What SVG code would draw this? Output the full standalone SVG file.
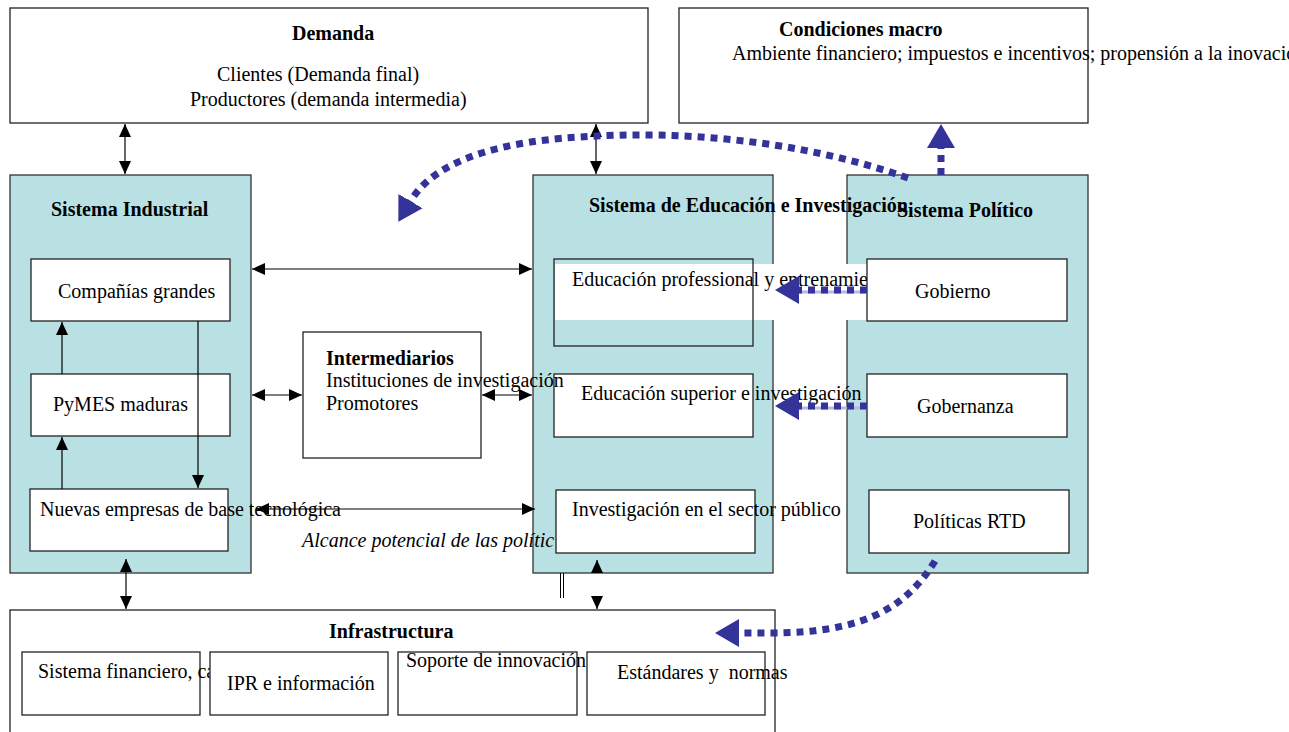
<svg xmlns="http://www.w3.org/2000/svg" width="1289" height="732" viewBox="0 0 1289 732">
  <style>
    text { font-family: "Liberation Serif", "Times New Roman", serif; font-size: 20px; fill: #000; }
    .b { font-weight: bold; }
    .it { font-style: italic; }
    .box { fill: #fff; stroke: #222; stroke-width: 1.3; }
    .sys { fill: #b9e0e3; stroke: #333; stroke-width: 1.3; }
    .ln { fill: none; stroke: #000; stroke-width: 1.2; }
    .dot { fill: none; stroke: #333399; stroke-width: 7; stroke-dasharray: 7 6; }
    .pale { fill: none; stroke: #b8b8e0; stroke-width: 3; }
  </style>
  <defs>
    <marker id="ah" markerUnits="userSpaceOnUse" markerWidth="14" markerHeight="14" viewBox="0 0 14 14" refX="13" refY="7" orient="auto-start-reverse">
      <path d="M0 1 L13 7 L0 13 Z" fill="#000"/>
    </marker>
    <marker id="bh" markerUnits="userSpaceOnUse" markerWidth="26" markerHeight="30" viewBox="0 0 26 30" refX="1" refY="15" orient="auto">
      <path d="M0 1 L24 15 L0 29 Z" fill="#333399"/>
    </marker>
  </defs>

  <!-- top boxes -->
  <g id="demanda">
    <rect class="box" x="10" y="8" width="638" height="115"/>
    <text class="b" x="292" y="40">Demanda</text>
    <text x="217" y="81">Clientes (Demanda final)</text>
    <text x="190" y="106">Productores (demanda intermedia)</text>
  </g>
  <g id="condiciones-macro">
    <rect class="box" x="679" y="8" width="409" height="115"/>
    <text class="b" x="779" y="36">Condiciones macro</text>
    <text x="732" y="60">Ambiente financiero; impuestos e incentivos; propensión a la inovación</text>
  </g>

  <!-- industrial system -->
  <g id="sistema-industrial">
    <rect class="sys" x="10" y="175" width="241" height="398"/>
    <text class="b" x="51" y="216">Sistema Industrial</text>
  </g>
  <g id="companias-grandes">
    <rect class="box" x="31" y="259" width="199" height="62"/>
    <text x="58" y="298">Compañías grandes</text>
  </g>
  <g id="pymes-maduras">
    <rect class="box" x="31" y="374" width="199" height="62"/>
    <text x="53" y="411">PyMES maduras</text>
  </g>
  <g id="nuevas-empresas">
    <rect class="box" x="30" y="489" width="198" height="62" stroke-width="2"/>
    <text x="40" y="516">Nuevas empresas de base tecnológica</text>
  </g>

  <!-- education and political systems -->
  <g id="sistema-educacion">
    <rect class="sys" x="533" y="175" width="240" height="398"/>
  </g>
  <g id="sistema-politico">
    <rect class="sys" x="847" y="175" width="241" height="398"/>
    <text class="b" x="897" y="217">Sistema Político</text>
  </g>
  <text class="b" x="589" y="212">Sistema de Educación e Investigación</text>

  <g id="educacion-profesional">
    <rect x="555" y="264" width="312" height="56" fill="#fff"/>
    <rect x="554" y="259" width="199" height="87" fill="none" stroke="#222" stroke-width="1.3"/>
    <text x="572" y="286">Educación professional y entrenamie</text>
  </g>
  <g id="educacion-superior">
    <rect class="box" x="554" y="374" width="199" height="63"/>
    <text x="581" y="400">Educación superior e investigación</text>
  </g>
  <text class="it" x="302" y="547">Alcance potencial de las polític</text>
  <g id="investigacion-publica">
    <rect class="box" x="556" y="490" width="199" height="63"/>
    <text x="572" y="516">Investigación en el sector público</text>
  </g>

  <!-- intermediaries -->
  <g id="intermediarios">
    <rect class="box" x="303" y="332" width="178" height="126"/>
    <text class="b" x="326" y="365">Intermediarios</text>
    <text x="326" y="387">Instituciones de investigación</text>
    <text x="326" y="410">Promotores</text>
  </g>

  <g id="gobierno">
    <rect class="box" x="867" y="259" width="200" height="62"/>
    <text x="915" y="298">Gobierno</text>
  </g>
  <g id="gobernanza">
    <rect class="box" x="867" y="374" width="200" height="63"/>
    <text x="917" y="413">Gobernanza</text>
  </g>
  <g id="politicas-rtd">
    <rect class="box" x="869" y="490" width="200" height="63"/>
    <text x="913" y="528">Políticas RTD</text>
  </g>

  <!-- infrastructure -->
  <g id="infraestructura">
    <rect class="box" x="10" y="610" width="765" height="140"/>
    <text class="b" x="329" y="638">Infrastructura</text>
  </g>
  <g id="sistema-financiero">
    <rect class="box" x="22" y="652" width="178" height="63"/>
    <text x="38" y="678">Sistema financiero, ca</text>
  </g>
  <g id="ipr-informacion">
    <rect class="box" x="210" y="652" width="178" height="63"/>
    <text x="227" y="690">IPR e información</text>
  </g>
  <g id="soporte-innovacion">
    <rect class="box" x="398" y="652" width="179" height="63"/>
    <text x="406" y="667">Soporte de innovación</text>
  </g>
  <g id="estandares-normas">
    <rect class="box" x="587" y="652" width="178" height="63"/>
    <text x="617" y="679" xml:space="preserve">Estándares y  normas</text>
  </g>

  <!-- connectors -->
  <g id="connectors">
    <!-- solid two-way links -->
    <line class="ln" x1="125" y1="124" x2="125" y2="174" marker-start="url(#ah)" marker-end="url(#ah)"/>
    <line class="ln" x1="596" y1="124" x2="596" y2="174" marker-start="url(#ah)" marker-end="url(#ah)"/>
    <line class="ln" x1="252" y1="269" x2="532" y2="269" marker-start="url(#ah)" marker-end="url(#ah)"/>
    <line class="ln" x1="252" y1="395" x2="302" y2="395" marker-start="url(#ah)" marker-end="url(#ah)"/>
    <line class="ln" x1="482" y1="395" x2="532" y2="395" marker-start="url(#ah)" marker-end="url(#ah)"/>
    <line class="ln" x1="256" y1="509" x2="535" y2="509" marker-start="url(#ah)" marker-end="url(#ah)"/>
    <line class="ln" x1="126" y1="559" x2="126" y2="609" marker-start="url(#ah)" marker-end="url(#ah)"/>
    <!-- inside the industrial system -->
    <line class="ln" x1="62" y1="374" x2="62" y2="322" marker-end="url(#ah)"/>
    <line class="ln" x1="62" y1="489" x2="62" y2="437" marker-end="url(#ah)"/>
    <line class="ln" x1="198" y1="321" x2="198" y2="488" marker-end="url(#ah)"/>
    <!-- education system to infrastructure -->
    <line class="ln" x1="597" y1="573" x2="597" y2="560" marker-end="url(#ah)"/>
    <line class="ln" x1="597" y1="597" x2="597" y2="609" marker-end="url(#ah)"/>
    <line x1="560.5" y1="573" x2="560.5" y2="598" stroke="#000" stroke-width="1"/>
    <line x1="563.5" y1="573" x2="563.5" y2="598" stroke="#000" stroke-width="1"/>

    <!-- policy influence (dotted) -->
    <path class="dot" d="M908 178 C800 140 680 130 580 137 C480 143 430 168 410 202" marker-end="url(#bh)"/>
    <path class="dot" d="M941 175 L941 147" marker-end="url(#bh)"/>
    <line class="pale" x1="797" y1="292" x2="867" y2="292"/>
    <path class="dot" d="M867 290 L798 290" marker-end="url(#bh)"/>
    <line class="pale" x1="797" y1="408" x2="867" y2="408"/>
    <path class="dot" d="M867 406 L798 406" marker-end="url(#bh)"/>
    <path class="dot" d="M935 561 C905 610 860 633 770 633 L738 633" marker-end="url(#bh)"/>
  </g>
</svg>
